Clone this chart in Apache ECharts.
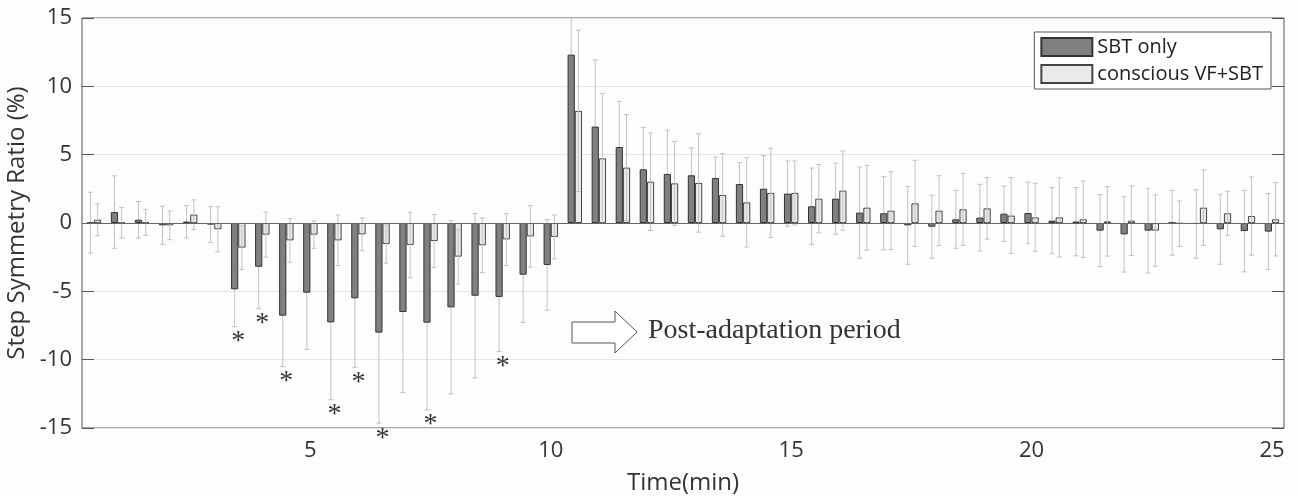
<!DOCTYPE html>
<html>
<head>
<meta charset="utf-8">
<script src="https://cdn.jsdelivr.net/npm/echarts@6/dist/echarts.min.js"></script>
<style>
  html, body { margin: 0; padding: 0; background: #fdfdfd; }
  #chart { width: 1298px; height: 496px; }
</style>
</head>
<body>
<div id="chart"></div>
<script>
// time points (min)
const times = ["0.5", "1", "1.5", "2", "2.5", "3", "3.5", "4", "4.5", "5",
  "5.5", "6", "6.5", "7", "7.5", "8", "8.5", "9", "9.5", "10",
  "10.5", "11", "11.5", "12", "12.5", "13", "13.5", "14", "14.5", "15",
  "15.5", "16", "16.5", "17", "17.5", "18", "18.5", "19", "19.5", "20",
  "20.5", "21", "21.5", "22", "22.5", "23", "23.5", "24", "24.5", "25"];

// SBT only
const sbtMean = [0.02, 0.8, 0.24, -0.17, 0.1, -0.12, -4.85, -3.2, -6.78, -5.1,
  -7.27, -5.51, -8.02, -6.51, -7.29, -6.17, -5.32, -5.41, -3.78, -3.07,
  12.32, 7.05, 5.56, 3.93, 3.59, 3.49, 3.29, 2.85, 2.51, 2.15,
  1.22, 1.78, 0.76, 0.71, -0.17, -0.27, 0.27, 0.39, 0.68, 0.73,
  0.17, 0.1, -0.56, -0.83, -0.56, 0.02, -0.07, -0.46, -0.59, -0.63];
const sbtSd = [2.23, 2.65, 1.33, 1.39, 1.18, 1.32, 2.74, 3.07, 3.73, 4.15,
  5.66, 5.05, 6.63, 5.9, 6.39, 6.34, 6.02, 4.0, 3.49, 3.32,
  3.0, 4.88, 3.34, 3.07, 3.2, 2.0, 1.54, 1.56, 2.42, 2.39,
  2.8, 2.6, 3.34, 2.68, 2.85, 2.3, 2.12, 2.44, 2.03, 2.25,
  2.42, 2.5, 2.63, 2.76, 3.1, 2.37, 2.5, 2.56, 2.98, 2.78];

// conscious VF+SBT
const vfMean = [0.24, 0.02, 0.05, -0.17, 0.61, -0.46, -1.8, -0.85, -1.27, -0.85,
  -1.27, -0.83, -1.54, -1.61, -1.32, -2.46, -1.63, -1.2, -0.98, -1.02,
  8.2, 4.73, 4.05, 3.02, 2.9, 2.93, 2.05, 1.51, 2.2, 2.2,
  1.78, 2.37, 1.12, 0.9, 1.44, 0.9, 1.0, 1.07, 0.54, 0.41,
  0.41, 0.27, 0.12, 0.17, -0.56, -0.05, 1.12, 0.71, 0.51, 0.27];
const vfSd = [1.17, 1.12, 0.95, 1.05, 1.08, 1.65, 1.6, 1.65, 1.6, 1.0,
  1.85, 1.2, 1.4, 2.4, 1.93, 2.0, 2.0, 1.9, 2.25, 1.6,
  5.9, 4.76, 3.88, 3.57, 3.07, 3.6, 3.02, 3.27, 3.27, 2.34,
  2.5, 2.9, 3.1, 2.85, 3.15, 2.56, 2.63, 2.25, 2.78, 2.5,
  2.9, 2.8, 2.54, 2.54, 2.61, 1.66, 2.76, 1.61, 2.86, 2.68];

// time points marked significant (*)
const sigTimes = ["3.5", "4", "4.5", "5.5", "6", "6.5", "7.5", "9"];

const yTicks = [-15, -10, -5, 0, 5, 10, 15];
const xTickLabels = ["5", "10", "15", "20", "25"];

const Y_MIN = yTicks[0], Y_MAX = yTicks[yTicks.length - 1];
const showTick = (i, v) => xTickLabels.indexOf(v) >= 0;

let myChart = echarts.init(document.getElementById("chart"));

// 误差线
function errorRenderer(side) {
	return function (params, api) {
		const idx = api.value(0);
		const mean = api.value(1);
		const sd = api.value(2);
		const band = api.size([1, 0])[0];
		const x = api.coord([idx, 0])[0] + side * band * 0.15;
		const hi = Math.min(mean + sd, Y_MAX);
		const lo = Math.max(mean - sd, Y_MIN);
		const yHi = api.coord([idx, hi])[1];
		const yLo = api.coord([idx, lo])[1];
		const cap = 2.5;
		const style = { stroke: "#c2c2c2", lineWidth: 1 };
		const children = [
			{ type: "line", shape: { x1: x, y1: yHi, x2: x, y2: yLo }, style: style },
		];
		if (mean + sd <= Y_MAX) {
			children.push({ type: "line", shape: { x1: x - cap, y1: yHi, x2: x + cap, y2: yHi }, style: style });
		}
		if (mean - sd >= Y_MIN) {
			children.push({ type: "line", shape: { x1: x - cap, y1: yLo, x2: x + cap, y2: yLo }, style: style });
		}
		return { type: "group", children: children };
	};
}

const sbtErr = times.map((t, i) => [i, sbtMean[i], sbtSd[i]]);
const vfErr = times.map((t, i) => [i, vfMean[i], vfSd[i]]);
const sigData = sigTimes.map((t) => {
	const i = times.indexOf(t);
	return [i, sbtMean[i] - sbtSd[i]];
});

const axisFont = { fontFamily: "Open Sans", fontSize: 22, color: "#333" };

const option = {
	backgroundColor: "#fdfdfd",
	animation: false,
	grid: {
		left: 82,
		right: 14,
		top: 18,
		bottom: 68,
		outerBoundsMode: "none",
		show: true,
		borderColor: "#555",
		borderWidth: 1,
		backgroundColor: "transparent",
	},
	legend: {
		orient: "vertical",
		right: 27,
		top: 32,
		icon: "rect",
		itemWidth: 51,
		itemHeight: 18,
		itemGap: 7,
		padding: [5, 8, 5, 6],
		borderColor: "#555",
		borderWidth: 1,
		backgroundColor: "#fff",
		textStyle: { fontFamily: "Open Sans", fontSize: 20, color: "#222" },
		data: ["SBT only", "conscious VF+SBT"],
	},
	xAxis: [
		{
			type: "category",
			data: times,
			boundaryGap: true,
			name: "Time(min)",
			nameLocation: "middle",
			nameGap: 43,
			nameTextStyle: { fontFamily: "Open Sans", fontSize: 24, color: "#333" },
			axisLine: { show: false, onZero: false },
			axisTick: { inside: true, length: 12, alignWithLabel: true, interval: showTick, lineStyle: { color: "#555" } },
			axisLabel: Object.assign({ interval: showTick, margin: 12 }, axisFont),
			splitLine: { show: false },
		},
		{
			type: "category",
			data: times,
			position: "top",
			boundaryGap: true,
			axisLine: { show: false },
			axisTick: { inside: true, length: 12, alignWithLabel: true, interval: showTick, lineStyle: { color: "#555" } },
			axisLabel: { show: false },
		},
	],
	yAxis: [
		{
			type: "value",
			min: Y_MIN,
			max: Y_MAX,
			interval: 5,
			name: "Step Symmetry Ratio (%)",
			nameLocation: "middle",
			nameGap: 43,
			nameTextStyle: { fontFamily: "Open Sans", fontSize: 24, color: "#333" },
			axisLine: { show: false },
			axisTick: { show: true, inside: true, length: 12, lineStyle: { color: "#555" } },
			axisLabel: Object.assign({ margin: 10 }, axisFont),
			splitLine: { lineStyle: { color: "#e6e6e6" } },
		},
		{
			type: "value",
			min: Y_MIN,
			max: Y_MAX,
			interval: 5,
			position: "right",
			axisLine: { show: false },
			axisTick: { show: true, inside: true, length: 12, lineStyle: { color: "#555" } },
			axisLabel: { show: false },
			splitLine: { show: false },
		},
	],
	series: [
		{
			type: "custom",
			name: "sbtErr",
			renderItem: errorRenderer(-1),
			data: sbtErr,
			z: 1,
			silent: true,
		},
		{
			name: "SBT only",
			type: "bar",
			data: sbtMean,
			barWidth: "30%",
			barGap: "0%",
			z: 2,
			itemStyle: { color: "#808080", borderColor: "#333", borderWidth: 1 },
			markLine: {
				silent: true,
				symbol: "none",
				label: { show: false },
				lineStyle: { color: "#666", type: "solid", width: 1 },
				data: [{ yAxis: 0 }],
			},
		},
		{
			name: "conscious VF+SBT",
			type: "bar",
			data: vfMean,
			barWidth: "30%",
			barGap: "0%",
			z: 2,
			itemStyle: { color: "#eaeaea", borderColor: "#444", borderWidth: 1 },
		},
		{
			type: "custom",
			name: "vfErr",
			renderItem: errorRenderer(1),
			data: vfErr,
			z: 3,
			silent: true,
		},
		{
			type: "custom",
			name: "sig",
			clip: false,
			z: 4,
			silent: true,
			data: sigData,
			renderItem: function (params, api) {
				const p = api.coord([api.value(0), api.value(1)]);
				return {
					type: "text",
					x: p[0],
					y: p[1] + 1,
					style: {
						text: "*",
						fontFamily: "Liberation Serif",
						fontSize: 28,
						fill: "#333",
						align: "center",
						verticalAlign: "top",
					},
				};
			},
		},
	],
	graphic: [
		{
			type: "polygon",
			shape: {
				points: [[572, 322], [615, 322], [615, 311], [637, 332], [615, 353], [615, 343], [572, 343]],
			},
			style: { fill: "#fff", stroke: "#555", lineWidth: 1 },
		},
		{
			type: "text",
			x: 648,
			y: 331,
			style: {
				text: "Post-adaptation period",
				fontFamily: "Liberation Serif",
				fontSize: 28,
				fill: "#333",
				verticalAlign: "middle",
			},
		},
	],
};

myChart.setOption(option);
</script>
</body>
</html>
